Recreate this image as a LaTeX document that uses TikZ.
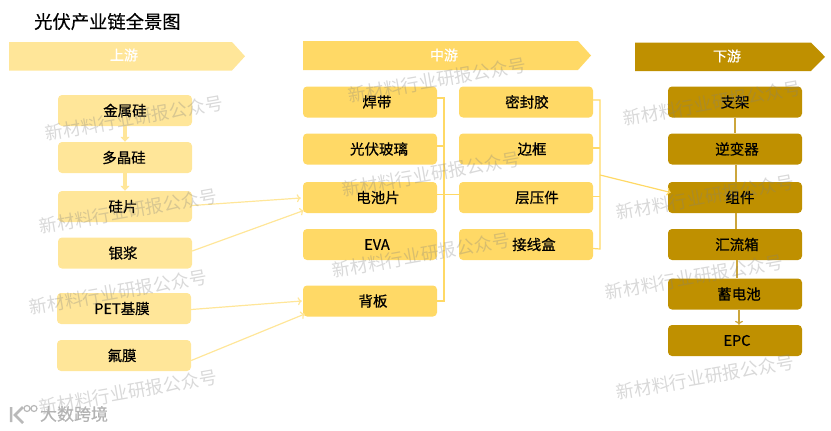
\documentclass[tikz,border=0pt]{standalone}
\usepackage{fontspec}
\usepackage{xcolor}
\setmainfont{Noto Sans CJK SC}
\newfontfamily\boxfont[FakeBold=0.5]{Noto Sans CJK SC}
\usetikzlibrary{arrows.meta}
\definecolor{upfill}{RGB}{255,230,153}
\definecolor{midfill}{RGB}{255,217,102}
\definecolor{lowfill}{RGB}{191,144,0}
\definecolor{lowline}{RGB}{204,166,60}
\definecolor{mark}{RGB}{128,128,128}
\tikzset{
  upbox/.style={fill=upfill, rounded corners=4pt, minimum width=134pt, minimum height=31pt, inner sep=0pt, font=\boxfont\fontsize{14.5pt}{16pt}\selectfont},
  midbox/.style={upbox, fill=midfill},
  lowbox/.style={upbox, fill=lowfill},
  banner/.style={text=white, inner sep=0pt, font=\boxfont\fontsize{14pt}{16pt}\selectfont},
  upline/.style={draw=upfill, line width=1.2pt},
  midline/.style={draw=midfill, line width=1.2pt},
  lowline/.style={draw=lowline, line width=1.3pt},
  openhead/.style={-{To[length=4pt,width=8pt]}},
  fathead/.style={line width=4.5pt, -{Triangle[length=5pt,width=9pt]}},
  stamp/.style={rotate=10, text=mark, text opacity=0.3, inner sep=0pt, font=\fontsize{18pt}{20pt}\selectfont}
}

\begin{document}
\begin{tikzpicture}[x=1pt,y=-1pt]
  \useasboundingbox (0,0) rectangle (831,431);
  \node[inner sep=0pt, anchor=west, font=\boxfont\fontsize{18.3pt}{20pt}\selectfont] (title) at (34,21.5) {光伏产业链全景图};

  % stage banners
  \fill[upfill] (9,42) -- (232,42) -- (245,56.3) -- (232,70.5) -- (9,70.5) -- cycle;
  \fill[midfill] (303,41) -- (578,41) -- (591,55.5) -- (578,70) -- (303,70) -- cycle;
  \fill[lowfill] (635,42.5) -- (811,42.5) -- (825,56.8) -- (811,71) -- (635,71) -- cycle;
  \node[banner] (up) at (124,55) {上游};
  \node[banner] (mid) at (444,55) {中游};
  \node[banner] (low) at (727,56) {下游};

  % upstream
  \node[upbox] (jinshu) at (125,110.5) {金属硅};
  \node[upbox] (duojing) at (125,157.5) {\hspace{-2pt}多晶硅};
  \node[upbox] (guipian) at (125,206.5) {\hspace{-4pt}硅片};
  \node[upbox] (yinjiang) at (125,253) {\hspace{-4pt}银浆};
  \node[upbox] (pet) at (124,308.5) {\hspace{-4pt}PET基膜};
  \node[upbox] (fumo) at (124,355.5) {\hspace{-4pt}氟膜};

  % midstream
  \node[midbox] (handai) at (370,102) {\hspace{14pt}焊带};
  \node[midbox] (boli) at (370,149) {\hspace{18pt}光伏玻璃};
  \node[midbox] (dianchi) at (370,197.5) {\hspace{16pt}电池片};
  \node[midbox] (eva) at (370,244.5) {\hspace{14pt}EVA};
  \node[midbox] (beiban) at (370,301) {\hspace{6pt}背板};
  \node[midbox] (mifeng) at (526,102) {\hspace{2pt}密封胶};
  \node[midbox] (biankuang) at (526,149) {\hspace{12pt}边框};
  \node[midbox] (cengya) at (526,197.5) {\hspace{22pt}层压件};
  \node[midbox] (jiexian) at (526,244.5) {\hspace{16pt}接线盒};

  % downstream
  \node[lowbox] (zhijia) at (735,102) {支架};
  \node[lowbox] (nibian) at (735,149) {\hspace{4pt}逆变器};
  \node[lowbox] (zujian) at (735,197.5) {\hspace{10pt}组件};
  \node[lowbox] (huiliu) at (735,244.5) {\hspace{4pt}汇流箱};
  \node[lowbox] (xudian) at (735,294) {\hspace{8pt}蓄电池};
  \node[lowbox] (epc) at (735,340.5) {\hspace{4pt}EPC};

  % connectors
  \coordinate (busa) at (444,98);
  \coordinate (busb) at (600,100);
  \coordinate (merge) at (600,175);
  \draw[upline,fathead] (jinshu) -- (duojing);
  \draw[upline,fathead] (duojing) -- (guipian);
  \draw[upline,openhead] ([yshift=1pt]guipian.east) -- ([xshift=-2pt,yshift=-0.5pt]dianchi.west);
  \draw[upline,openhead] ([yshift=2pt]yinjiang.east) -- ([xshift=1pt,yshift=-13pt]dianchi.west);
  \draw[upline,openhead] ([yshift=-1pt]pet.east) -- ([xshift=-1pt]beiban.west);
  \draw[upline,openhead] ([yshift=-5pt]fumo.east) -- ([xshift=2pt,yshift=-13pt]beiban.west);
  \draw[midline] ([yshift=4pt]handai.east) -- (busa) -- (busa |- beiban.east) -- (beiban.east);
  \draw[midline] ([yshift=3pt]boli.east) -- ++(7,0);
  \draw[midline] ([yshift=3pt]dianchi.east) -- ([yshift=3pt]cengya.west);
  \draw[midline] ([yshift=2pt]mifeng.east) -- (busb) -- ++(0,149) -- ([yshift=-4pt]jiexian.east);
  \draw[midline] ([yshift=1pt]biankuang.east) -- ++(7,0);
  \draw[midline] ([yshift=1pt]cengya.east) -- ++(7,0);
  \draw[midline,openhead] (merge) -- ([xshift=3pt,yshift=5pt]zujian.west);
  \draw[lowline] (zhijia) -- (nibian);
  \draw[lowline] ([xshift=1pt]nibian.south) -- ([xshift=1pt]zujian.north);
  \draw[lowline] ([xshift=1pt]zujian.south) -- ([xshift=1pt]huiliu.north);
  \draw[lowline] ([xshift=2pt]huiliu.south) -- ([xshift=2pt]xudian.north);
  \draw[lowline,openhead] ([xshift=4pt]xudian.south) -- ([xshift=4pt]epc.north);

  % watermark
  \foreach \px/\py in {134/118,128/211,118/292,128/392,437/80,431/174,421/255,712/103,705/197,694/277,705/377}
    \node[stamp] at (\px,\py) {新材料行业研报公众号};

  % logo
  \draw[mark!55, line width=2.5pt] (11,407) -- (11,422) (23,407) -- (15,415) -- (23,423);
  \draw[mark!55, line width=1.2pt] (27,408.5) circle (3pt) (34,408.5) circle (3pt);
  \node[text=mark!60, inner sep=0pt, font=\boxfont\fontsize{17pt}{18pt}\selectfont] (brand) at (74,414) {大数跨境};
\end{tikzpicture}
\end{document}
